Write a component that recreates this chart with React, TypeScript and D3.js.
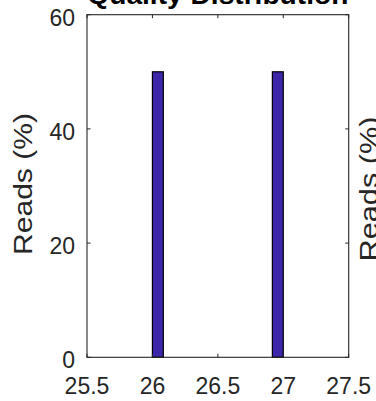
import React from "react";
import * as d3 from "d3";

const binLeft = [26, 26.9167];
const binRight = [26.0833, 27];
const readsPct = [50, 50];
const xTicks = [25.5, 26, 26.5, 27, 27.5];
const yTicks = [0, 20, 40, 60];
const titleText = "Quality Distribution";
const yLabelText = "Reads (%)";

const W = 376;
const H = 401;
const M = { left: 87, right: 27.3, top: 14.7, bottom: 43.7 };
const AX = "#262626";
const FONT = "'Liberation Sans', Arial, Helvetica, sans-serif";

export default function App() {
  const x = d3.scaleLinear().domain([25.5, 27.5]).range([M.left, W - M.right]);
  const y = d3.scaleLinear().domain([0, 60]).range([H - M.bottom, M.top]);
  const [x0, x1] = x.range();
  const [y0, y1] = y.range();
  const tl = 3.5;

  return (
    <svg
      width={W}
      height={H}
      style={{ position: "absolute", left: 0, top: 0, background: "#fff" }}
      fontFamily={FONT}
    >
      {binLeft.map((b, i) => (
        <rect
          key={i}
          x={x(b)}
          y={y(readsPct[i])}
          width={x(binRight[i]) - x(b)}
          height={y(0) - y(readsPct[i])}
          fill="#3E26A8"
          stroke="#000"
          strokeWidth={1.2}
        />
      ))}
      <rect x={x0} y={y1} width={x1 - x0} height={y0 - y1} fill="none" stroke={AX} strokeWidth={1.1} />
      {xTicks.map((t) => (
        <g key={"x" + t}>
          <line x1={x(t)} x2={x(t)} y1={y0} y2={y0 - tl} stroke={AX} />
          <line x1={x(t)} x2={x(t)} y1={y1} y2={y1 + tl} stroke={AX} />
          <text x={x(t)} y={394} textAnchor="middle" fontSize={23} fill={AX}>
            {String(t)}
          </text>
        </g>
      ))}
      {yTicks.map((t) => (
        <g key={"y" + t}>
          <line x1={x0} x2={x0 + tl} y1={y(t)} y2={y(t)} stroke={AX} />
          <line x1={x1} x2={x1 - tl} y1={y(t)} y2={y(t)} stroke={AX} />
          <text x={75} y={y(t) + 11} textAnchor="end" fontSize={23} fill={AX}>
            {String(t)}
          </text>
        </g>
      ))}
      <text
        transform={`translate(32,184) rotate(-90)`}
        textAnchor="middle"
        fontSize={26}
        fill={AX}
        textLength={142}
        lengthAdjust="spacingAndGlyphs"
      >
        {yLabelText}
      </text>
      <text
        transform={`translate(377.5,189) rotate(-90)`}
        textAnchor="middle"
        fontSize={26}
        fill={AX}
        textLength={145}
        lengthAdjust="spacingAndGlyphs"
      >
        {yLabelText}
      </text>
      <text
        x={(x0 + x1) / 2}
        y={4}
        textAnchor="middle"
        fontSize={26}
        fontWeight="bold"
        fill="#000"
        textLength={261}
        lengthAdjust="spacingAndGlyphs"
      >
        {titleText}
      </text>
    </svg>
  );
}
